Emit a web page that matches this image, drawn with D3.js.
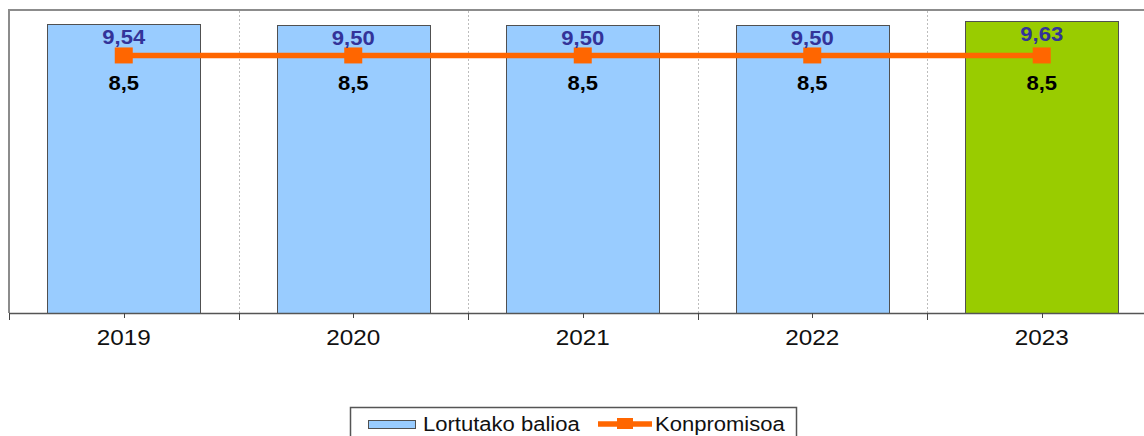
<!DOCTYPE html>
<html>
<head>
<meta charset="utf-8">
<script src="https://cdn.jsdelivr.net/npm/d3@7"></script>
<style>
  body { margin: 0; background: #fff; }
  text { font-family: "Liberation Sans", Arial, sans-serif; }
</style>
</head>
<body>
<div id="chart"></div>
<script>
//-------------------------------------------------------//
//                        DATA                           //
//-------------------------------------------------------//

var years = ["2019", "2020", "2021", "2022", "2023"];
var achieved = [9.54, 9.50, 9.50, 9.50, 9.63];
var commitment = [8.5, 8.5, 8.5, 8.5, 8.5];
var seriesNames = ["Lortutako balioa", "Konpromisoa"];

//-------------------------------------------------------//
//                DEFINE SVG AREA                        //
//-------------------------------------------------------//

var svgWidth = 1144;
var svgHeight = 436;

// plot area (runs off the right edge like the original)
var plot = { left: 9, top: 10, bottom: 313, band: 229.5 };

// text in the original is stretched sideways a bit
var stretch = 1.13;

var svg = d3.select("#chart")
    .append("svg")
    .attr("width", svgWidth)
    .attr("height", svgHeight);

var xBand = d3.scaleBand()
    .domain(years)
    .range([plot.left, plot.left + plot.band * years.length])
    .padding(0);

var yLinearScale = d3.scaleLinear()
    .domain([0, 10])
    .range([plot.bottom, plot.top]);

var barWidth = xBand.bandwidth() * 0.667;
function cx(d) { return xBand(d) + xBand.bandwidth() / 2; }

function stretchedText(g, x, y) {
    return g.append("text")
        .attr("text-anchor", "middle")
        .attr("transform", `translate(${x}, ${y}) scale(${stretch}, 1)`);
}

// plot border (top and left)
svg.append("path")
    .attr("d", `M${plot.left},${plot.bottom} V${plot.top} H${svgWidth}`)
    .attr("fill", "none")
    .attr("stroke", "#8c8c8c")
    .attr("stroke-width", 2);

// dotted vertical gridlines at category boundaries
svg.selectAll(".grid")
    .data(years.slice(1))
    .enter()
    .append("line")
    .attr("x1", d => Math.round(xBand(d)) + 0.5)
    .attr("x2", d => Math.round(xBand(d)) + 0.5)
    .attr("y1", plot.top + 1)
    .attr("y2", plot.bottom)
    .attr("stroke", "#bdbdbd")
    .attr("stroke-dasharray", "2,2");

//-------------------------------------------------------//
//                        BARS                           //
//-------------------------------------------------------//

svg.selectAll(".bar")
    .data(years)
    .enter()
    .append("rect")
    .attr("x", d => Math.round(cx(d) - barWidth / 2) + 0.5)
    .attr("y", (d, i) => Math.round(yLinearScale(achieved[i])) + 0.5)
    .attr("width", Math.round(barWidth))
    .attr("height", (d, i) => plot.bottom - Math.round(yLinearScale(achieved[i])))
    .attr("fill", (d, i) => i === years.length - 1 ? "#99cc00" : "#99ccff")
    .attr("stroke", "#505050")
    .attr("stroke-width", 1);

// x axis with major ticks at boundaries, minor ticks at centres
svg.append("line")
    .attr("x1", plot.left)
    .attr("x2", svgWidth)
    .attr("y1", plot.bottom + 0.5)
    .attr("y2", plot.bottom + 0.5)
    .attr("stroke", "#555")
    .attr("stroke-width", 1.5);

var bounds = years.map(d => xBand(d));
svg.selectAll(".major")
    .data(bounds)
    .enter()
    .append("line")
    .attr("x1", d => Math.round(d) + 0.5)
    .attr("x2", d => Math.round(d) + 0.5)
    .attr("y1", plot.bottom)
    .attr("y2", plot.bottom + 7)
    .attr("stroke", "#444");

svg.selectAll(".minor")
    .data(years)
    .enter()
    .append("line")
    .attr("x1", d => Math.round(cx(d)) + 0.5)
    .attr("x2", d => Math.round(cx(d)) + 0.5)
    .attr("y1", plot.bottom)
    .attr("y2", plot.bottom + 5)
    .attr("stroke", "#444");

years.forEach(function(d) {
    stretchedText(svg, cx(d), 345)
        .attr("font-size", 21.5)
        .attr("fill", "#111")
        .text(d);
});

//-------------------------------------------------------//
//                    COMMITMENT LINE                    //
//-------------------------------------------------------//

var line = d3.line()
    .x((d, i) => cx(years[i]))
    .y(d => yLinearScale(d));

svg.append("path")
    .datum(commitment)
    .attr("d", line)
    .attr("fill", "none")
    .attr("stroke", "#ff6600")
    .attr("stroke-width", 5.5);

svg.selectAll(".marker")
    .data(commitment)
    .enter()
    .append("rect")
    .attr("x", (d, i) => cx(years[i]) - 9)
    .attr("y", d => yLinearScale(d) - 8)
    .attr("width", 18)
    .attr("height", 16)
    .attr("fill", "#ff6600");

// value labels
years.forEach(function(d, i) {
    stretchedText(svg, cx(d), yLinearScale(achieved[i]) + 20)
        .attr("font-size", 19.5)
        .attr("font-weight", "bold")
        .attr("fill", "#333399")
        .text(d3.format(".2f")(achieved[i]).replace(".", ","));

    stretchedText(svg, cx(d), yLinearScale(commitment[i]) + 34.5)
        .attr("font-size", 19.5)
        .attr("font-weight", "bold")
        .attr("fill", "#000")
        .text(String(commitment[i]).replace(".", ","));
});

//-------------------------------------------------------//
//                        LEGEND                         //
//-------------------------------------------------------//

var legend = svg.append("g");

legend.append("rect")
    .attr("x", 350.5)
    .attr("y", 407.5)
    .attr("width", 446)
    .attr("height", 40)
    .attr("fill", "#fff")
    .attr("stroke", "#555")
    .attr("stroke-width", 1.5);

legend.append("rect")
    .attr("x", 368.5)
    .attr("y", 420.5)
    .attr("width", 47)
    .attr("height", 8)
    .attr("fill", "#99ccff")
    .attr("stroke", "#505050");

legend.append("text")
    .attr("transform", `translate(423, 431) scale(${stretch}, 1)`)
    .attr("font-size", 19.5)
    .attr("fill", "#111")
    .text(seriesNames[0]);

legend.append("line")
    .attr("x1", 598)
    .attr("x2", 652)
    .attr("y1", 424)
    .attr("y2", 424)
    .attr("stroke", "#ff6600")
    .attr("stroke-width", 5.5);

legend.append("rect")
    .attr("x", 617)
    .attr("y", 418)
    .attr("width", 16)
    .attr("height", 11)
    .attr("fill", "#ff6600");

legend.append("text")
    .attr("transform", `translate(655, 431) scale(${stretch}, 1)`)
    .attr("font-size", 19.5)
    .attr("fill", "#111")
    .text(seriesNames[1]);
</script>
</body>
</html>
